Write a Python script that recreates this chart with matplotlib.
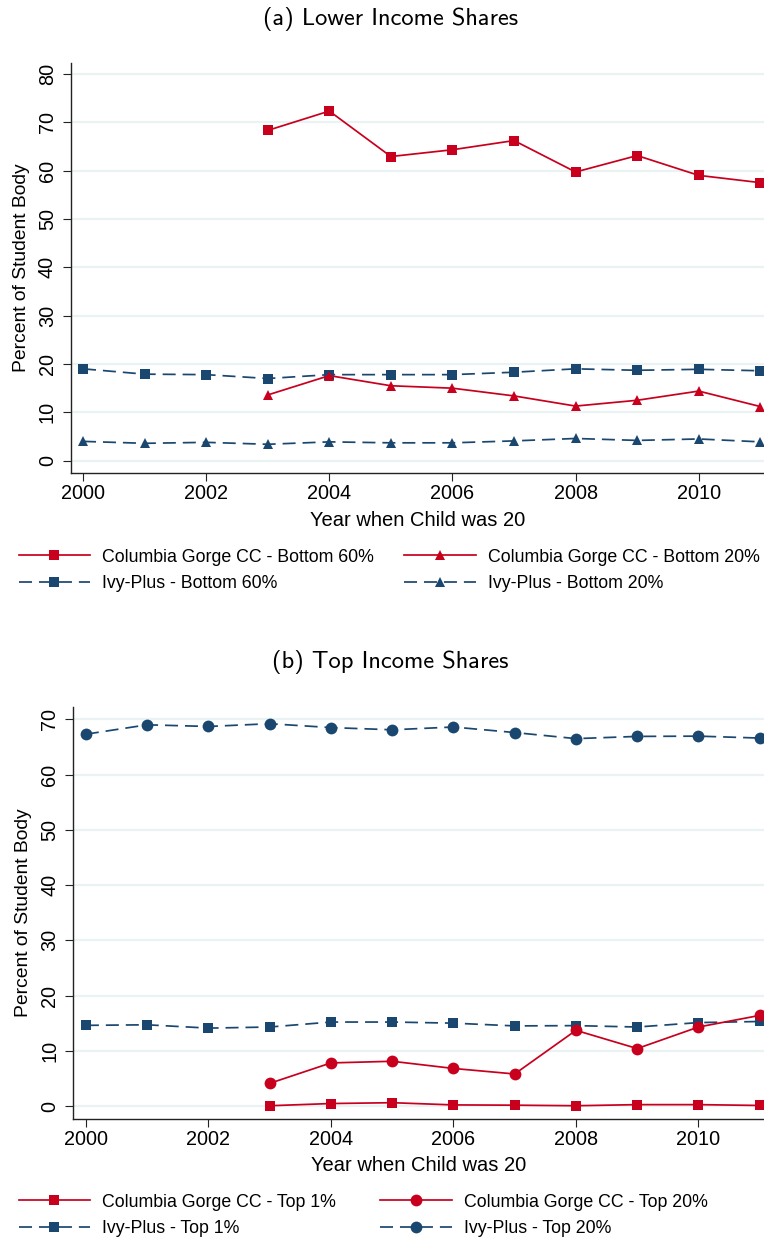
import numpy as np
import matplotlib
matplotlib.use('Agg')
import matplotlib.pyplot as plt
from matplotlib import font_manager

# data
years = list(range(2000, 2012))
cgcc_years = list(range(2003, 2012))

# (a) lower income shares
cgcc_bottom60 = [68.3, 72.3, 62.9, 64.3, 66.2, 59.7, 63.1, 59.0, 57.5]
cgcc_bottom20 = [13.6, 17.6, 15.5, 15.0, 13.4, 11.3, 12.5, 14.4, 11.2]
ivy_bottom60 = [19.0, 17.9, 17.8, 17.0, 17.8, 17.8, 17.8, 18.3, 19.0, 18.7, 18.9, 18.6]
ivy_bottom20 = [4.0, 3.6, 3.8, 3.4, 3.9, 3.7, 3.7, 4.1, 4.6, 4.2, 4.5, 3.9]

# (b) top income shares
cgcc_top1 = [0.05, 0.45, 0.6, 0.2, 0.15, 0.05, 0.25, 0.25, 0.1]
cgcc_top20 = [4.1, 7.8, 8.1, 6.8, 5.8, 13.7, 10.4, 14.3, 16.4]
ivy_top1 = [14.6, 14.7, 14.1, 14.3, 15.2, 15.2, 15.0, 14.5, 14.55, 14.3, 15.1, 15.3]
ivy_top20 = [67.3, 69.0, 68.7, 69.2, 68.5, 68.1, 68.6, 67.6, 66.5, 66.9, 66.95, 66.6]

xticks = [2000, 2002, 2004, 2006, 2008, 2010]
yticks_a = list(range(0, 90, 10))
yticks_b = list(range(0, 80, 10))

RED = '#c8001e'
NAVY = '#1a476f'
GRID = '#eaf2f3'

names = {f.name for f in font_manager.fontManager.ttflist}
if 'Liberation Sans Narrow' in names:
    FONT = 'Liberation Sans Narrow'
    k = 1.0
else:
    FONT = 'Liberation Sans'
    k = 0.84
TITLE_FONT = 'cmss10' if 'cmss10' in names else 'DejaVu Sans'

plt.rcParams['font.family'] = FONT
plt.rcParams['axes.unicode_minus'] = False

W, H = 764., 1241.
fig = plt.figure(figsize=(W / 100, H / 100), dpi=100)
fig.patch.set_facecolor('white')

LEG_FS = 16 * k * 0.95       # legend text size (pt)
LEG_PX = LEG_FS * 100 / 72   # same in pixels


def make_axes(left, top, bottom):
    return fig.add_axes([left / W, 1 - bottom / H, 1 - left / W, (bottom - top) / H])


def style(ax, xlim, ylim, yticks, xlab_y):
    ax.set_xlim(*xlim)
    ax.set_ylim(*ylim)
    ax.set_xticks(xticks)
    ax.set_yticks(yticks)
    ax.spines['top'].set_visible(False)
    ax.spines['right'].set_visible(False)
    for s in ['left', 'bottom']:
        ax.spines[s].set_linewidth(1.0)
        ax.spines[s].set_color('#222222')
    ax.grid(axis='y', color=GRID, linewidth=1.6)
    ax.set_axisbelow(True)
    ax.tick_params(axis='both', length=6, width=0.8, color='#222222')
    ax.tick_params(axis='x', labelsize=17 * k, pad=2)
    ax.tick_params(axis='y', labelsize=17 * k, pad=4)
    for lab in ax.get_yticklabels():
        lab.set_rotation(90)
        lab.set_va('center')
    ax.set_xlabel('Year when Child was 20', fontsize=17.3 * k)
    ax.xaxis.set_label_coords(0.5, xlab_y)
    ax.xaxis.label.set_va('center')
    ax.set_ylabel('Percent of Student Body', fontsize=13.9, family='Liberation Sans')
    ax.yaxis.set_label_coords(-0.071, 0.5)
    ax.yaxis.label.set_va('center')


def add_legend(handles, y_px, col_gap_px):
    fig.legend(handles, [h.get_label() for h in handles],
               loc='center left', bbox_to_anchor=(18.5 / W, 1 - y_px / H),
               ncol=2, frameon=False, fontsize=LEG_FS,
               handlelength=72 / LEG_PX, handletextpad=12 / LEG_PX,
               columnspacing=col_gap_px / LEG_PX, labelspacing=0.55,
               borderpad=0, borderaxespad=0)


line_kw = dict(linewidth=1.25, markeredgewidth=0)
dash = (7.5, 4)

# ---- panel (a)
ax_a = make_axes(70.7, 62.7, 473.3)
style(ax_a, (1999.8, 2011.06), (-2.6, 82.3), yticks_a, -0.116)
h_iv60, = ax_a.plot(years, ivy_bottom60, color=NAVY, marker='s', markersize=7,
                    dashes=dash, label='Ivy-Plus - Bottom 60%', **line_kw)
h_iv20, = ax_a.plot(years, ivy_bottom20, color=NAVY, marker='^', markersize=7.5,
                    dashes=dash, label='Ivy-Plus - Bottom 20%', **line_kw)
h_cg60, = ax_a.plot(cgcc_years, cgcc_bottom60, color=RED, marker='s', markersize=7,
                    label='Columbia Gorge CC - Bottom 60%', **line_kw)
h_cg20, = ax_a.plot(cgcc_years, cgcc_bottom20, color=RED, marker='^', markersize=7.5,
                    label='Columbia Gorge CC - Bottom 20%', **line_kw)
for h in [h_iv60, h_iv20, h_cg60, h_cg20]:
    h.set_clip_on(False)

fig.text(0.511, 1 - 19 / H, '(a) Lower Income Shares', family=TITLE_FONT,
         fontsize=17.6, ha='center', va='center')
add_legend([h_cg60, h_iv60, h_cg20, h_iv20], 570.5, 30)

# ---- panel (b)
ax_b = make_axes(73.0, 707.3, 1119.0)
style(ax_b, (1999.79, 2011.07), (-2.35, 72.17), yticks_b, -0.112)
h_iv1, = ax_b.plot(years, ivy_top1, color=NAVY, marker='s', markersize=7,
                   dashes=dash, label='Ivy-Plus - Top 1%', **line_kw)
h_iv20b, = ax_b.plot(years, ivy_top20, color=NAVY, marker='o', markersize=8.5,
                     dashes=dash, label='Ivy-Plus - Top 20%', **line_kw)
h_cg1, = ax_b.plot(cgcc_years, cgcc_top1, color=RED, marker='s', markersize=7,
                   label='Columbia Gorge CC - Top 1%', **line_kw)
h_cg20b, = ax_b.plot(cgcc_years, cgcc_top20, color=RED, marker='o', markersize=8.5,
                     label='Columbia Gorge CC - Top 20%', **line_kw)
for h in [h_iv1, h_iv20b, h_cg1, h_cg20b]:
    h.set_clip_on(False)

fig.text(0.511, 1 - 662 / H, '(b) Top Income Shares', family=TITLE_FONT,
         fontsize=17.6, ha='center', va='center')
add_legend([h_cg1, h_iv1, h_cg20b, h_iv20b], 1215.5, 44)

fig.savefig('out.png', dpi=100, facecolor='white')
